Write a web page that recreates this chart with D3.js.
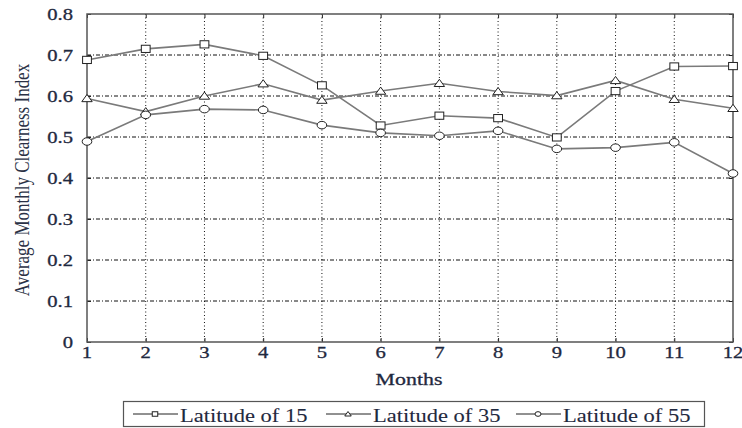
<!DOCTYPE html>
<html><head><meta charset="utf-8">
<script src="https://cdn.jsdelivr.net/npm/d3@7"></script>
<style>html,body{margin:0;padding:0;background:#fff;}svg{display:block;}</style>
</head><body>
<svg id="c" width="742" height="428"></svg>
<script>
const months = [1,2,3,4,5,6,7,8,9,10,11,12];
const lat15 = [0.688,0.715,0.726,0.698,0.626,0.528,0.552,0.546,0.499,0.612,0.672,0.673];
const lat35 = [0.594,0.562,0.600,0.630,0.590,0.612,0.631,0.611,0.601,0.638,0.592,0.570];
const lat55 = [0.489,0.554,0.568,0.566,0.529,0.510,0.503,0.515,0.471,0.474,0.487,0.411];
const yTicks = [0,0.1,0.2,0.3,0.4,0.5,0.6,0.7,0.8];
const yTickLabels = ["0","0.1","0.2","0.3","0.4","0.5","0.6","0.7","0.8"];
const seriesNames = ["Latitude of 15","Latitude of 35","Latitude of 55"];
const xTitle = "Months";
const yTitle = "Average Monthly Clearness Index";

const svg = d3.select("#c");
const L = 87, R = 733, T = 14, B = 342;
const x = d3.scaleLinear().domain([1,12]).range([L,R]);
const y = d3.scaleLinear().domain([0,0.8]).range([B,T]);
const SX = 1.25;
const font = "'Liberation Serif','Times New Roman',serif";
const txtCol = "#1f2940";

function stext(g, tx, ty, str, anchor, size, sw) {
  const t = g.append("text")
    .attr("transform", `translate(${tx},${ty}) scale(${SX},1)`)
    .attr("text-anchor", anchor)
    .attr("font-family", font)
    .attr("font-size", size)
    .attr("fill", txtCol)
    .text(str);
  if (sw) t.attr("stroke", txtCol).attr("stroke-width", sw);
  return t;
}

// grid
const grid = svg.append("g");
grid.selectAll(".hg").data(yTicks.slice(1,-1)).enter().append("line")
  .attr("x1", L).attr("x2", R).attr("y1", d=>y(d)).attr("y2", d=>y(d))
  .attr("stroke", "#111").attr("stroke-width", 1).attr("stroke-dasharray", "4,2,1,2");
grid.selectAll(".vg").data(months.slice(1,-1)).enter().append("line")
  .attr("y1", T).attr("y2", B).attr("x1", d=>x(d)).attr("x2", d=>x(d))
  .attr("stroke", "#111").attr("stroke-width", 1).attr("stroke-dasharray", "1,2.5");

// axes via d3
const axB = svg.append("g").attr("transform", `translate(0,${B})`)
  .call(d3.axisBottom(x).tickValues(months).tickSize(-4).tickFormat(""));
const axT = svg.append("g").attr("transform", `translate(0,${T})`)
  .call(d3.axisTop(x).tickValues(months).tickSize(-4).tickFormat(""));
const axL = svg.append("g").attr("transform", `translate(${L},0)`)
  .call(d3.axisLeft(y).tickValues(yTicks).tickSize(-4).tickFormat(""));
const axR = svg.append("g").attr("transform", `translate(${R},0)`)
  .call(d3.axisRight(y).tickValues(yTicks).tickSize(-4).tickFormat(""));
[axB,axT,axL,axR].forEach(a => {
  a.select(".domain").remove();
  a.selectAll(".tick line").attr("stroke", "#222").attr("stroke-width", 1);
});
svg.append("rect").attr("x", L).attr("y", T).attr("width", R-L).attr("height", B-T)
  .attr("fill", "none").attr("stroke", "#555").attr("stroke-width", 1.5);

// tick labels
const tl = svg.append("g");
months.forEach(m => stext(tl, x(m), 358, String(m), "middle", 16.5, 0.3));
yTicks.forEach((v,i) => stext(tl, 73, y(v)+5.5, yTickLabels[i], "end", 16.5, 0.3));

// titles
stext(svg, 409, 385, xTitle, "middle", 17.5, 0.3);
svg.append("text")
  .attr("transform", `translate(29,180) scale(${SX},1) rotate(-90)`)
  .attr("text-anchor", "middle").attr("font-family", font).attr("font-size", 17)
  .attr("fill", "#2a3145").text(yTitle);

// markers
function marker(g, type, cx, cy, s) {
  if (type === 0) {
    g.append("rect").attr("x", cx - s*0.55).attr("y", cy - s*0.45)
      .attr("width", s*1.1).attr("height", s*0.9)
      .attr("fill", "#fff").attr("stroke", "#222").attr("stroke-width", 1);
  } else if (type === 1) {
    g.append("path").attr("d", `M${cx-s*0.65},${cy+s*0.4}L${cx+s*0.65},${cy+s*0.4}L${cx},${cy-s*0.5}Z`)
      .attr("fill", "#fff").attr("stroke", "#222").attr("stroke-width", 1);
  } else {
    g.append("ellipse").attr("cx", cx).attr("cy", cy).attr("rx", s*0.6).attr("ry", s*0.47)
      .attr("fill", "#fff").attr("stroke", "#222").attr("stroke-width", 1);
  }
}

const allSeries = [lat15, lat35, lat55];
const line = d3.line().x((d,i)=>x(months[i])).y(d=>y(d));
allSeries.forEach((s, k) => {
  const g = svg.append("g");
  g.append("path").datum(s).attr("d", line)
    .attr("fill", "none").attr("stroke", "#7a7a7a").attr("stroke-width", 1.6);
  s.forEach((v,i) => marker(g, k, x(months[i]), y(v), 8));
});

// legend
const lg = svg.append("g");
lg.append("rect").attr("x", 123.5).attr("y", 401.5).attr("width", 581).attr("height", 25)
  .attr("fill", "#fff").attr("stroke", "#555").attr("stroke-width", 1.2);
const legX = [133, 326, 516];
seriesNames.forEach((n, k) => {
  const x0 = legX[k];
  lg.append("line").attr("x1", x0).attr("x2", x0+45).attr("y1", 414).attr("y2", 414)
    .attr("stroke", "#222").attr("stroke-width", 1);
  marker(lg, k, x0+22, 414, 5);
  stext(lg, x0+47, 421.5, n, "start", 18, 0.1);
});
</script>
</body></html>
